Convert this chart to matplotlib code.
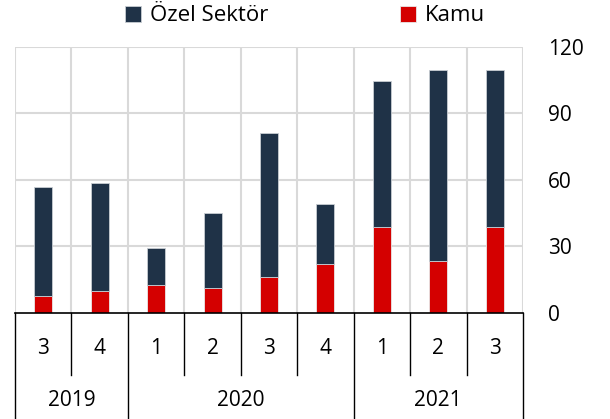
import numpy as np
import matplotlib.pyplot as plt

plt.rcParams['font.family'] = ['Open Sans', 'DejaVu Sans']

quarters = ['3', '4', '1', '2', '3', '4', '1', '2', '3']
years = ['2019', '2020', '2021']
year_spans = [(0, 2), (2, 6), (6, 9)]
kamu = [7.6, 9.9, 12.5, 11.1, 16.1, 22.2, 38.6, 23.5, 39.0]
ozel = [49.4, 48.9, 16.6, 34.1, 64.9, 26.8, 65.9, 86.1, 70.6]

navy = '#1f3247'
red = '#d40000'
grid_c = '#d9d9d9'

fig = plt.figure(figsize=(6.1, 4.19), dpi=100)
ax = fig.add_axes([0.0246, 0.253, 0.8327, 0.635])

x = np.arange(len(quarters))
w = 0.32
ax.bar(x, kamu, w, color=red, edgecolor='#e8e8e8', linewidth=0.6, zorder=3, label='Kamu')
ax.bar(x, ozel, w, bottom=kamu, color=navy, edgecolor='#c8cdd3', linewidth=0.6, zorder=3,
       label='Özel Sektör')

ax.set_xlim(-0.5, len(quarters) - 0.5)
ax.set_ylim(0, 120)
ax.set_yticks([0, 30, 60, 90, 120])
ax.yaxis.tick_right()
ax.tick_params(axis='y', length=0, pad=18, labelsize=15)
for lab in ax.get_yticklabels():
    lab.set_horizontalalignment('left')
ax.set_xticks([])

for y in [30, 60, 90, 120]:
    ax.axhline(y, color=grid_c, lw=1.5, zorder=1)
for b in np.arange(-0.5, len(quarters), 1.0):
    ax.axvline(b, color=grid_c, lw=1.5, zorder=1)

for s in ['left', 'right', 'top']:
    ax.spines[s].set_visible(False)
ax.spines['bottom'].set_color('black')
ax.spines['bottom'].set_linewidth(1.2)
ax.spines['bottom'].set_zorder(4)

# multi-level category axis below the plot
trans = ax.get_xaxis_transform()
q_bottom = -(375 - 313) / 266
full_bottom = -(419 - 313) / 266
year_edges = {s for span in year_spans for s in span}
for b in range(len(quarters) + 1):
    yb = full_bottom if b in year_edges else q_bottom
    ax.plot([b - 0.5, b - 0.5], [0, yb], color='black', lw=1.0, transform=trans, clip_on=False)
for i, q in enumerate(quarters):
    ax.text(i, -(348 - 313) / 266, q, transform=trans, ha='center', va='center', fontsize=15)
for yr, (a, b) in zip(years, year_spans):
    ax.text((a + b - 1) / 2, -(400 - 313) / 266, yr, transform=trans, ha='center', va='center',
            fontsize=15)

h, l = ax.get_legend_handles_labels()
fig.legend(h[::-1], l[::-1], loc='center', bbox_to_anchor=(0.5, 0.962), ncol=2, frameon=False,
           fontsize=16, handlelength=0.75, handleheight=0.75, handletextpad=0.4, columnspacing=5.9)

fig.savefig('out.png', dpi=100)
